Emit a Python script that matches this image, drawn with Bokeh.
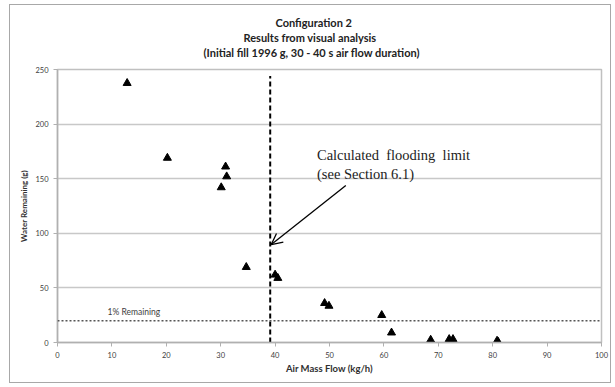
from bokeh.plotting import figure
from bokeh.models import Range1d, Label, Arrow, OpenHead, Span, FixedTicker, Title
from bokeh.embed import file_html
from bokeh.resources import INLINE

# data
air_flow = [12.8, 20.2, 30.9, 31.1, 30.1, 34.7, 40.0, 40.5, 49.1, 49.9, 59.6, 61.4, 68.6, 72.0, 72.7, 80.8, 81.0]
water = [237.5, 169, 161, 152, 142, 69, 62, 59, 36, 33.5, 25, 9, 2.4, 3, 3, 1.5, 0.6]
flood_limit_x = 39.1
flood_top = 244
one_percent = 20
x_ticks = [0, 10, 20, 30, 40, 50, 60, 70, 80, 90, 100]
y_ticks = [0, 50, 100, 150, 200, 250]
title_lines = ["Configuration 2", "Results from visual analysis",
               "(Initial fill 1996 g, 30 - 40 s air flow duration)"]
title_offsets = [218, 186, 146]

p = figure(width=602, height=379, output_backend="svg", toolbar_location=None,
           x_range=Range1d(0, 100), y_range=Range1d(0, 250),
           min_border_left=47, min_border_right=11, min_border_top=64, min_border_bottom=42)
p.styles = {"border": "1px solid #a8a8a8", "margin-left": "9px", "margin-top": "4px"}
p.background_fill_color = "white"
p.border_fill_color = "white"
p.outline_line_color = "#c0c0c0"
p.outline_line_width = 1.5

p.xgrid.visible = False
p.ygrid.grid_line_color = "#c8c8c8"
p.ygrid.grid_line_width = 1.5

for ax in (p.xaxis[0], p.yaxis[0]):
    ax.axis_line_color = "#b0b0b0"
    ax.axis_line_width = 1.5
    ax.major_tick_line_color = "#b0b0b0"
    ax.major_tick_out = 4
    ax.major_tick_in = 0
    ax.minor_tick_line_color = None
    ax.major_label_text_font = "Lato"
    ax.major_label_text_font_size = "7.5px"
    ax.major_label_text_color = "#404040"
    ax.axis_label_text_font = "Lato"
    ax.axis_label_text_font_style = "bold"
    ax.axis_label_text_color = "#303030"

p.xaxis.axis_label_text_font_size = "9.5px"
p.yaxis.axis_label_text_font_size = "8px"
p.xaxis.ticker = FixedTicker(ticks=x_ticks)
p.yaxis.ticker = FixedTicker(ticks=y_ticks)
p.xaxis.axis_label = "Air Mass Flow (kg/h)"
p.yaxis.axis_label = "Water Remaining (g)"
p.xaxis.axis_label_standoff = 2
p.yaxis.axis_label_standoff = 3

# 1% remaining line
p.add_layout(Span(location=one_percent, dimension="width", line_color="#555555",
                  line_width=1.5, line_dash="2 2"))
p.add_layout(Label(x=9.2, y=one_percent + 8, text="1% Remaining", text_font="Lato",
                   text_font_size="8.5px", text_color="#404040", text_baseline="middle"))

# flooding limit
p.line([flood_limit_x, flood_limit_x], [0, flood_top], line_color="black",
       line_width=2, line_dash="5 3")

p.scatter(air_flow, water, marker="triangle", size=8, color="black")

p.add_layout(Arrow(end=OpenHead(size=11, line_width=1.3, line_color="black"),
                   x_start=53.0, y_start=143.8, x_end=39.3, y_end=89.7,
                   line_width=1.3, line_color="black"))
p.add_layout(Label(x=47.7, y=172, text="Calculated\u00a0 flooding\u00a0 limit",
                   text_font="Liberation Serif", text_font_size="14.5px",
                   text_color="#222222", text_baseline="alphabetic"))
p.add_layout(Label(x=47.7, y=154.5, text="(see Section 6.1)",
                   text_font="Liberation Serif", text_font_size="14.5px",
                   text_color="#222222", text_baseline="alphabetic"))

# spacer between plot area and title block
p.add_layout(Title(text=" ", standoff=0, text_font_size="7.5px"), "above")
# titles (added bottom line first; later ones stack above)
for t, off in reversed(list(zip(title_lines, title_offsets))):
    p.add_layout(Title(text=t, align="left", offset=off, standoff=0,
                       text_font="Lato", text_font_size="11px",
                       text_font_style="bold", text_color="#222222"), "above")

open("out.html", "w").write(file_html(p, INLINE))
